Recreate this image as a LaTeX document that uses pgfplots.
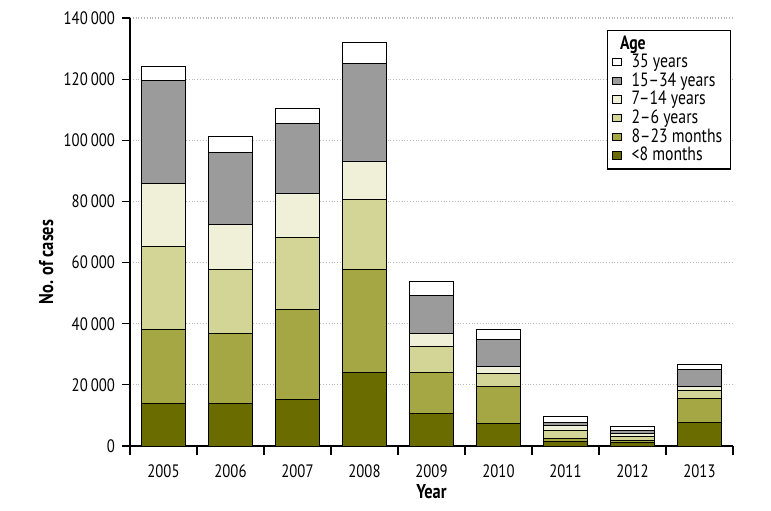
\documentclass[border=0pt]{standalone}
\usepackage{fontspec}
\setmainfont{PT Sans}[FakeStretch=0.82]
\usepackage{pgfplots}
\usepackage{pgfplotstable}
\pgfplotsset{compat=1.18}

\definecolor{Lt8}{HTML}{6B6C00}
\definecolor{M823}{HTML}{A5A744}
\definecolor{Y26}{HTML}{D3D596}
\definecolor{Y714}{HTML}{F0F0D8}
\definecolor{Y1534}{HTML}{9B9B9B}
\definecolor{Y35}{HTML}{FFFFFF}

% cases by age group, one row per year (x = 0 is 2005)
\pgfplotstableread{
x  lt8    m823   y26    y714   y1534  y35
0  14000  24200  27000  20700  33500  4700
1  14000  22900  20900  14700  23600  5300
2  15300  29200  23600  14600  22900  4900
3  24100  33700  22900  12300  32200  6700
4  10700  13300   8500   4400  12200  4700
5   7400  12200   4200   2100   9000  3300
6   1400   1100   2500   1800    800  2200
7   1000    700   1300   1200    800  1500
8   7600   8000   2700   1300   5300  1600
}\agetable

\begin{document}
\begin{tikzpicture}[x=1pt,y=1pt]
\useasboundingbox (-65,-32) rectangle (320.5,223);
\begin{axis}[
    at={(0,0)}, anchor=south west,
    scale only axis,
    width=301.5pt, height=214pt,
    ybar stacked,
    bar width=0.67,
    xmin=-0.5, xmax=8.5,
    ymin=0, ymax=140000,
    axis x line=bottom, axis y line=left,
    axis line style={-, line width=0.6pt},
    tick style={line width=0.6pt, black},
    tick align=outside,
    xtick={0,...,8},
    xticklabels={2005,2006,2007,2008,2009,2010,2011,2012,2013},
    major x tick style={draw=none},
    minor xtick={-0.5,0.5,...,8.5},
    minor tick length=4.5pt,
    ytick={0,20000,...,140000},
    yticklabels={0,20\,000,40\,000,60\,000,80\,000,100\,000,120\,000,140\,000},
    scaled y ticks=false,
    major tick length=4pt,
    ymajorgrids,
    grid style={densely dotted, gray!55, line width=0.6pt},
    ticklabel style={font=\fontsize{9}{10}\selectfont},
    xticklabel style={yshift=-2pt},
    xlabel={Year},
    ylabel={No. of cases},
    xlabel style={font=\fontsize{10}{11}\selectfont\bfseries,
        at={(axis description cs:0.5,0)}, anchor=base, yshift=-26pt},
    ylabel style={font=\fontsize{10}{11}\selectfont\bfseries,
        at={(axis description cs:-0.139,0.43)}, anchor=center},
    every axis plot/.append style={draw=black, line width=0.5pt},
    reverse legend,
    legend cell align=left,
    legend style={at={(0.791,0.972)}, anchor=north west,
        draw=black, line width=0.6pt,
        font=\fontsize{9.6}{9.6}\selectfont,
        row sep=-3pt, inner xsep=2pt, inner ysep=0.5pt},
    legend image code/.code={\draw[#1, line width=0.5pt] (0pt,-1.8pt) rectangle (4.8pt,1.9pt);
        \path (7.5pt,0pt);},
]
\addplot[fill=Lt8]   table[x=x, y=lt8]   {\agetable};
\addlegendentry{<8 months}
\addplot[fill=M823]  table[x=x, y=m823]  {\agetable};
\addlegendentry{8–23 months}
\addplot[fill=Y26]   table[x=x, y=y26]   {\agetable};
\addlegendentry{2–6 years}
\addplot[fill=Y714]  table[x=x, y=y714]  {\agetable};
\addlegendentry{7–14 years}
\addplot[fill=Y1534] table[x=x, y=y1534] {\agetable};
\addlegendentry{15–34 years}
\addplot[fill=Y35]   table[x=x, y=y35]   {\agetable};
\addlegendentry{35 years}
\addlegendimage{empty legend}
\addlegendentry{\hspace{-0.6em}\textbf{Age}}
\end{axis}
\end{tikzpicture}
\end{document}
